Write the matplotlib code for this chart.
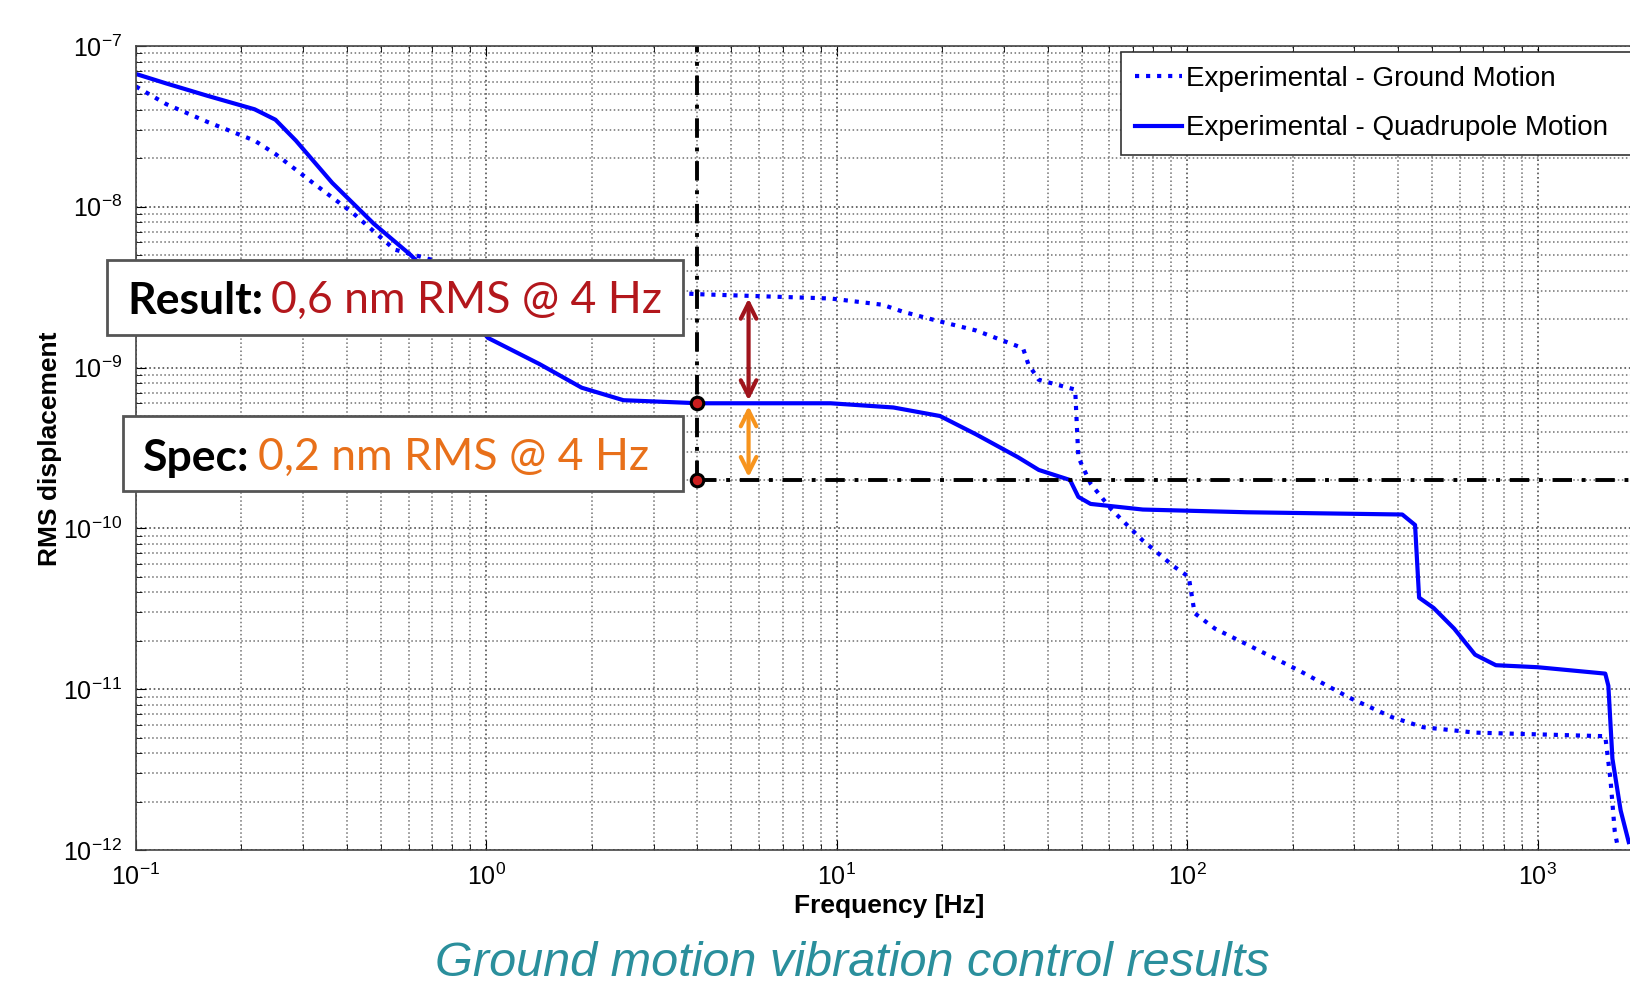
import numpy as np
import matplotlib
matplotlib.use("Agg")
import matplotlib.pyplot as plt
from matplotlib.patches import Rectangle
from matplotlib.ticker import FuncFormatter

plt.rcParams['font.family'] = ['Liberation Sans', 'DejaVu Sans']
plt.rcParams['mathtext.fontset'] = 'custom'
plt.rcParams['mathtext.rm'] = 'Liberation Sans'
plt.rcParams['mathtext.it'] = 'Liberation Sans:italic'
plt.rcParams['mathtext.bf'] = 'Liberation Sans:bold'

# ground motion (dotted)
ground_f = [0.1, 0.122, 0.16, 0.218, 0.25, 0.317, 0.417, 0.547, 0.72, 1.0, 2.0,
            4.04, 9.6, 13.5, 15.5, 19.1, 25, 34, 35.2, 37.7, 47.9, 48.9, 53, 60.8,
            74.7, 91.6, 101, 105, 120, 148, 208, 292, 384, 472, 663, 1560, 1614,
            1660, 1700]
ground_rms = [5.6e-8, 4.35e-8, 3.37e-8, 2.58e-8, 2.13e-8, 1.43e-8, 9.1e-9, 5.42e-9,
              4.6e-9, 3.8e-9, 3.1e-9, 2.86e-9, 2.69e-9, 2.46e-9, 2.22e-9, 1.97e-9,
              1.70e-9, 1.32e-9, 1.05e-9, 8.4e-10, 7.3e-10, 2.77e-10, 1.9e-10, 1.31e-10,
              8.4e-11, 5.8e-11, 5.0e-11, 2.97e-11, 2.38e-11, 1.9e-11, 1.31e-11, 8.8e-12,
              6.7e-12, 5.8e-12, 5.37e-12, 5.1e-12, 2.75e-12, 1.31e-12, 1.0e-12]

# quadrupole motion (solid)
quad_f = [0.1, 0.122, 0.16, 0.218, 0.25, 0.286, 0.363, 0.477, 0.607, 0.8, 1.01,
          1.42, 1.87, 2.46, 4.04, 9.6, 14.5, 19.7, 25, 32.9, 37.7, 46.3, 48.9, 53,
          74.7, 148, 411, 447, 459, 505, 578, 663, 760, 1000, 1560, 1592, 1635,
          1726, 1820]
quad_rms = [6.7e-8, 5.85e-8, 4.9e-8, 4.04e-8, 3.48e-8, 2.58e-8, 1.41e-8, 7.85e-9,
            5.03e-9, 2.8e-9, 1.53e-9, 1.05e-9, 7.5e-10, 6.27e-10, 6.0e-10, 6.0e-10,
            5.65e-10, 5.0e-10, 3.84e-10, 2.77e-10, 2.31e-10, 2.0e-10, 1.57e-10,
            1.42e-10, 1.31e-10, 1.26e-10, 1.22e-10, 1.05e-10, 3.71e-11, 3.2e-11,
            2.38e-11, 1.64e-11, 1.41e-11, 1.37e-11, 1.25e-11, 1.05e-11, 3.7e-12,
            1.76e-12, 1.12e-12]

spec_f = 4.0
result_val = 6e-10
spec_val = 2e-10
ground_at_spec = 2.8e-9
arrow_f = 5.6

W, H = 1630, 988
fig = plt.figure(figsize=(W / 100, H / 100), dpi=100)
# axes run past the right edge, like the cropped original
ax = fig.add_axes([136 / W, 138 / H, 1752 / W, 804 / H])

ax.plot(ground_f, ground_rms, color='#0000ff', ls=':', lw=3, label='Experimental - Ground Motion')
ax.plot(quad_f, quad_rms, color='#0000ff', ls='-', lw=3, label='Experimental - Quadrupole Motion')

ax.set_xscale('log')
ax.set_yscale('log')
ax.set_xlim(0.1, 1e4)
ax.set_ylim(1e-12, 1e-7)
ax.set_xticks([0.1, 1, 10, 100, 1000, 10000])


def dec_label(v, pos):
    if v > 2000:
        return ''
    return r'$10^{%d}$' % int(round(np.log10(v)))


ax.xaxis.set_major_formatter(FuncFormatter(dec_label))
ax.yaxis.set_major_formatter(FuncFormatter(dec_label))

ax.grid(True, which='major', color='#505050', ls=':', lw=1.2)
ax.grid(True, which='minor', color='#707070', ls=':', lw=1.1)
ax.tick_params(which='both', direction='in', top=True, right=True, labelsize=18)
ax.tick_params(axis='y', pad=10)
ax.tick_params(axis='x', pad=10)
ax.tick_params(which='major', length=7)
ax.tick_params(which='minor', length=4)
for s in ax.spines.values():
    s.set_color('#444444')
    s.set_linewidth(1.2)

ax.set_xlabel('Frequency [Hz]', fontsize=19, fontweight='bold')
ax.set_ylabel('RMS displacement', fontsize=19, fontweight='bold')
ax.xaxis.set_label_coords((889 - 136) / 1752, -(894 - 850) / 804)
ax.yaxis.set_label_coords(-(136 - 62) / 1752, (850 - 449) / 804)

# spec lines
dd = (5, 2.5, 1, 2.5)
ax.plot([spec_f, spec_f], [spec_val, 1e-7], color='black', lw=2.8, dashes=dd)
ax.plot([spec_f, 1e4], [spec_val, spec_val], color='black', lw=2.8, dashes=dd)
ax.plot([spec_f, spec_f], [result_val, spec_val], 'o', ms=9, mfc='#cc1f1f', mec='black', mew=2.2, zorder=6)

ax.annotate('', xy=(arrow_f, result_val), xytext=(arrow_f, ground_at_spec),
            arrowprops=dict(arrowstyle='<->', color='#a0141c', lw=3, mutation_scale=28))
ax.annotate('', xy=(arrow_f, spec_val), xytext=(arrow_f, result_val),
            arrowprops=dict(arrowstyle='<->', color='#f7941d', lw=3, mutation_scale=28))

leg = ax.legend(loc='upper left', bbox_to_anchor=(1121 / W, 0.5, 0.4, 1 - 52 / H - 0.5),
                bbox_transform=fig.transFigure, mode='expand', fancybox=False,
                framealpha=1, edgecolor='#333333', fontsize=20, handlelength=1.7,
                handletextpad=0.15, borderpad=0.5, labelspacing=0.85, borderaxespad=0)
leg.get_frame().set_linewidth(1.2)


# annotation boxes
def label_box(x0, y0, x1, y1, head, rest, color, tx, ty):
    ax.add_patch(Rectangle((x0 / W, 1 - y1 / H), (x1 - x0) / W, (y1 - y0) / H,
                           transform=fig.transFigure, facecolor='white',
                           edgecolor='#555555', lw=2, clip_on=False, zorder=9))
    t1 = ax.text(tx / W, 1 - ty / H, head, transform=fig.transFigure, fontsize=32,
                 fontweight='bold', family=['Lato', 'DejaVu Sans'], color='black',
                 va='bottom', zorder=10)
    ax.annotate(rest, xy=(1, 0), xycoords=t1, xytext=(6, 0), textcoords='offset points',
                fontsize=32, family=['Lato', 'DejaVu Sans'], color=color,
                va='bottom', ha='left', zorder=10, annotation_clip=False)


label_box(107, 260, 683, 335, 'Result:', '0,6 nm RMS @ 4 Hz', '#b3171c', 127, 321)
label_box(123, 416, 683, 491, 'Spec:', '0,2 nm RMS @ 4 Hz', '#e8701a', 143, 478)

fig.text(852 / W, 1 - 976 / H, 'Ground motion vibration control results', fontsize=35,
         style='italic', color='#2a8f9c', ha='center', va='baseline')

fig.savefig('out.png', dpi=100)
